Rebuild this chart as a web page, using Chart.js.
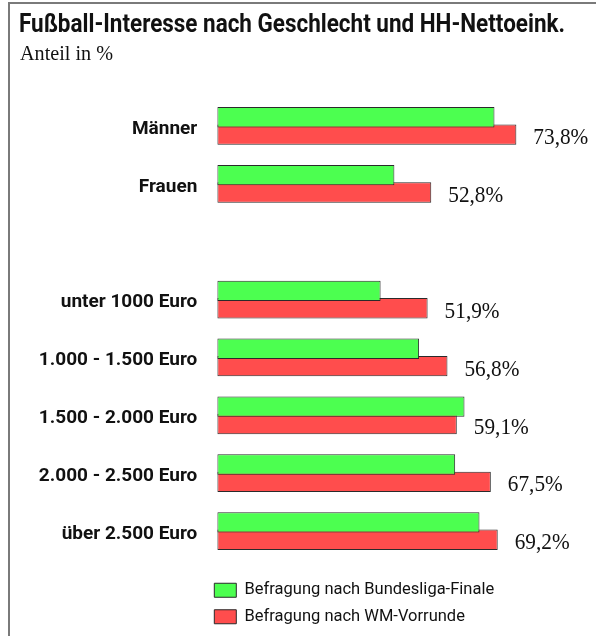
<!DOCTYPE html>
<html>
<head>
<meta charset="utf-8">
<script src="https://cdn.jsdelivr.net/npm/chart.js@4.4.1/dist/chart.umd.min.js"></script>
<style>
    body { margin: 0; background: #fff; }
    #wrap { position: relative; width: 596px; height: 636px; overflow: hidden; }
    #frame { position: absolute; left: 8px; top: 2px; width: 600px; height: 640px;
             border-left: 2px solid #7a7a7a; border-top: 2px solid #7a7a7a; }
    #chart { position: absolute; left: 0; top: 0; }
</style>
</head>
<body>
<div id="wrap">
    <div id="frame"></div>
    <canvas id="chart" width="596" height="636"></canvas>
</div>
<script>
// categories (empty slot = gap between gender and income groups)
const categories = ['Männer', 'Frauen', '', 'unter 1000 Euro', '1.000 - 1.500 Euro',
    '1.500 - 2.000 Euro', '2.000 - 2.500 Euro', 'über 2.500 Euro'];
const bundesligaFinale = [68.4, 43.7, null, 40.3, 49.8, 61.0, 58.7, 64.7];
const wmVorrunde = [73.8, 52.8, null, 51.9, 56.8, 59.1, 67.5, 69.2];
const seriesNames = ['Befragung nach Bundesliga-Finale', 'Befragung nach WM-Vorrunde'];

const chartTitle = 'Fußball-Interesse nach Geschlecht und HH-Nettoeink.';
const chartSubtitle = 'Anteil in %';

// draws text squeezed horizontally to a given width
function drawFitted(ctx, text, x, y, font, width) {
    ctx.save();
    ctx.font = font;
    const w = ctx.measureText(text).width;
    ctx.translate(x, y);
    ctx.scale(width / w, 1);
    ctx.fillText(text, 0, 0);
    ctx.restore();
}

const headerPlugin = {
    id: 'header',
    beforeDraw(chart) {
        const ctx = chart.ctx;
        ctx.save();
        ctx.fillStyle = '#111';
        ctx.textBaseline = 'alphabetic';
        ctx.textAlign = 'left';
        drawFitted(ctx, chartTitle, 19, 32, 'bold 26px Roboto', 546);
        drawFitted(ctx, chartSubtitle, 20, 60, '22px "Liberation Serif"', 93);
        ctx.restore();
    }
};

const valueLabels = {
    id: 'valueLabels',
    afterDatasetsDraw(chart) {
        const ctx = chart.ctx;
        const meta = chart.getDatasetMeta(1);
        ctx.save();
        ctx.fillStyle = '#111';
        ctx.textAlign = 'left';
        ctx.textBaseline = 'alphabetic';
        meta.data.forEach((bar, i) => {
            const v = wmVorrunde[i];
            if (v == null) return;
            const txt = v.toFixed(1).replace('.', ',') + '%';
            ctx.font = '23px "Liberation Serif"';
            const w = ctx.measureText(txt).width * 0.925;
            drawFitted(ctx, txt, bar.x + 17, bar.y + 9.5, '23px "Liberation Serif"', w);
        });
        ctx.restore();
    }
};

// nudge the legend to sit under the axis labels like the original
const legendShift = {
    id: 'legendShift',
    afterLayout(chart) {
        const lg = chart.legend;
        lg.left -= 13;
        lg.right -= 13;
        lg.top += 12;
        lg.bottom += 12;
    }
};

new Chart(document.getElementById('chart'), {
    type: 'bar',
    data: {
        labels: categories,
        datasets: [{
            label: seriesNames[0],
            data: bundesligaFinale,
            backgroundColor: '#4cff50',
            borderColor: '#2a2a2a',
            borderWidth: 1,
            borderSkipped: false
        }, {
            label: seriesNames[1],
            data: wmVorrunde,
            backgroundColor: '#ff4d4d',
            borderColor: '#2a2a2a',
            borderWidth: 1,
            borderSkipped: false
        }]
    },
    options: {
        indexAxis: 'y',
        responsive: false,
        animation: false,
        categoryPercentage: 0.603,
        barPercentage: 1.17,
        layout: {
            padding: { top: 97, left: 8, right: 14, bottom: 13 }
        },
        scales: {
            x: {
                display: false,
                min: 0,
                max: 90
            },
            y: {
                grid: { display: false, drawTicks: false },
                border: { display: false },
                ticks: {
                    padding: 20,
                    labelOffset: 3,
                    color: '#111',
                    font: { family: 'Roboto', weight: 'bold', size: 19 }
                },
                afterFit(axis) {
                    axis.width = 209.3;
                }
            }
        },
        plugins: {
            tooltip: { enabled: false },
            legend: {
                position: 'bottom',
                align: 'start',
                fullSize: false,
                labels: {
                    boxWidth: 22,
                    boxHeight: 14,
                    padding: 10,
                    color: '#111',
                    font: { family: 'Roboto', size: 16.5 }
                }
            }
        }
    },
    plugins: [headerPlugin, valueLabels, legendShift]
});
</script>
</body>
</html>
